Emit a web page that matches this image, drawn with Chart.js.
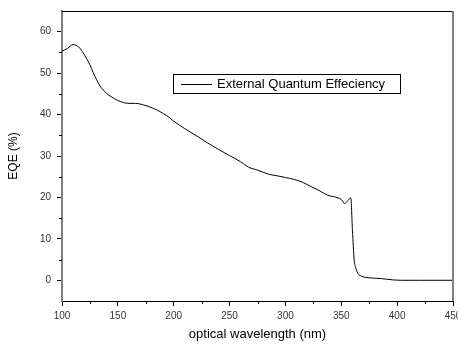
<!DOCTYPE html>
<html>
<head>
<meta charset="utf-8">
<script src="https://cdn.jsdelivr.net/npm/chart.js@4"></script>
<style>
html,body{margin:0;padding:0;background:#fff;}
#wrap{width:458px;height:345px;position:relative;}
</style>
</head>
<body>
<div id="wrap"><canvas id="c" width="458" height="345"></canvas></div>
<script>
const seriesLabel = "External Quantum Effeciency";
const wavelength = [100,105,110,115,118,122,125,128,131,134,137,140,144,150,155,160,166,172,178,185,191,196,200,210,222,230,240,250,260,267,275,285,293,300,307,315,323,330,338,343,347,350,353,356,358.5,360,361.5,363,365,368,372,380,386,396,405,420,450];
const eqe = [55.3,56,56.9,56.3,55.3,53.5,52,50.1,48.4,46.9,45.9,45.1,44.3,43.4,42.9,42.7,42.7,42.4,41.9,41.1,40.2,39.3,38.4,36.6,34.6,33.2,31.6,30.1,28.6,27.3,26.6,25.6,25.2,24.8,24.4,23.7,22.6,21.7,20.5,20.2,19.9,19.5,18.5,19.3,19.9,12,5,3,1.6,1,0.7,0.5,0.4,0.1,0,0,0];
const xTicks = [100,150,200,250,300,350,400,450];
const yTicks = [0,10,20,30,40,50,60];
const xMinor = [125,175,225,275,325,375,425];
const yMinor = [-5,5,15,25,35,45,55,65];

const points = wavelength.map((w,i)=>({x:w,y:eqe[i]}));
const FONT = "'Liberation Sans', Arial, sans-serif";

const decor = {
  id:'decor',
  afterDraw(chart){
    const ctx = chart.ctx, a = chart.chartArea;
    const xs = chart.scales.x, ys = chart.scales.y;
    ctx.save();
    ctx.strokeStyle = '#000'; ctx.lineWidth = 1;
    ctx.beginPath();
    xMinor.forEach(v=>{const p=Math.round(xs.getPixelForValue(v))+0.5; ctx.moveTo(p,a.bottom); ctx.lineTo(p,a.bottom+3);});
    yMinor.forEach(v=>{const p=Math.round(ys.getPixelForValue(v))+0.5; if(p>a.top+1&&p<a.bottom-1){ctx.moveTo(a.left-3,p); ctx.lineTo(a.left,p);}});
    ctx.stroke();
    ctx.strokeStyle='#000'; ctx.lineWidth=1;
    ctx.beginPath(); ctx.moveTo(a.left,a.top+0.5); ctx.lineTo(a.right,a.top+0.5); ctx.stroke();
    ctx.strokeStyle='#808080'; ctx.lineWidth=2;
    ctx.beginPath(); ctx.moveTo(a.right,a.top); ctx.lineTo(a.right,a.bottom); ctx.stroke();
    const lx=173, ly=74, lw=227, lh=19;
    ctx.fillStyle='#fff'; ctx.fillRect(lx,ly,lw,lh);
    ctx.strokeStyle='#000'; ctx.lineWidth=1;
    ctx.strokeRect(lx+0.5,ly+0.5,lw,lh);
    ctx.beginPath(); ctx.moveTo(181,ly+10.5); ctx.lineTo(212,ly+10.5); ctx.stroke();
    ctx.fillStyle='#000'; ctx.font='13px '+FONT; ctx.textBaseline='middle';
    ctx.fillText(chart.data.datasets[0].label, 217, ly+10.5);
    ctx.restore();
  }
};

new Chart(document.getElementById('c'),{
  type:'line',
  data:{datasets:[{label:seriesLabel,data:points,borderColor:'#000',borderWidth:1,pointRadius:0,fill:false,cubicInterpolationMode:'monotone'}]},
  options:{
    responsive:false,animation:false,
    layout:{padding:{top:11,right:5,left:0,bottom:0},autoPadding:false},
    plugins:{legend:{display:false},tooltip:{enabled:false}},
    scales:{
      x:{type:'linear',min:100,max:450,
        afterBuildTicks(s){s.ticks=xTicks.map(v=>({value:v}));},
        afterFit(s){s.height=44;s.paddingLeft=0;s.paddingRight=0;},
        grid:{drawOnChartArea:false,drawTicks:true,tickLength:5,color:'#000'},
        border:{color:'#000',width:1},
        ticks:{color:'#333',font:{family:FONT,size:10},padding:4,maxRotation:0},
        title:{display:true,text:'optical wavelength (nm)',color:'#000',font:{family:FONT,size:13},padding:{top:4,bottom:3}}
      },
      y:{type:'linear',min:-5,max:65,
        afterBuildTicks(s){s.ticks=yTicks.map(v=>({value:v}));},
        afterFit(s){s.width=62;s.paddingTop=0;s.paddingBottom=0;},
        grid:{drawOnChartArea:false,drawTicks:true,tickLength:5,color:'#000'},
        border:{color:'#808080',width:2},
        ticks:{color:'#333',font:{family:FONT,size:10},padding:6},
        title:{display:true,text:'EQE (%)',color:'#000',font:{family:FONT,size:12},padding:{top:6,bottom:0}}
      }
    }
  },
  plugins:[decor]
});
</script>
</body>
</html>
